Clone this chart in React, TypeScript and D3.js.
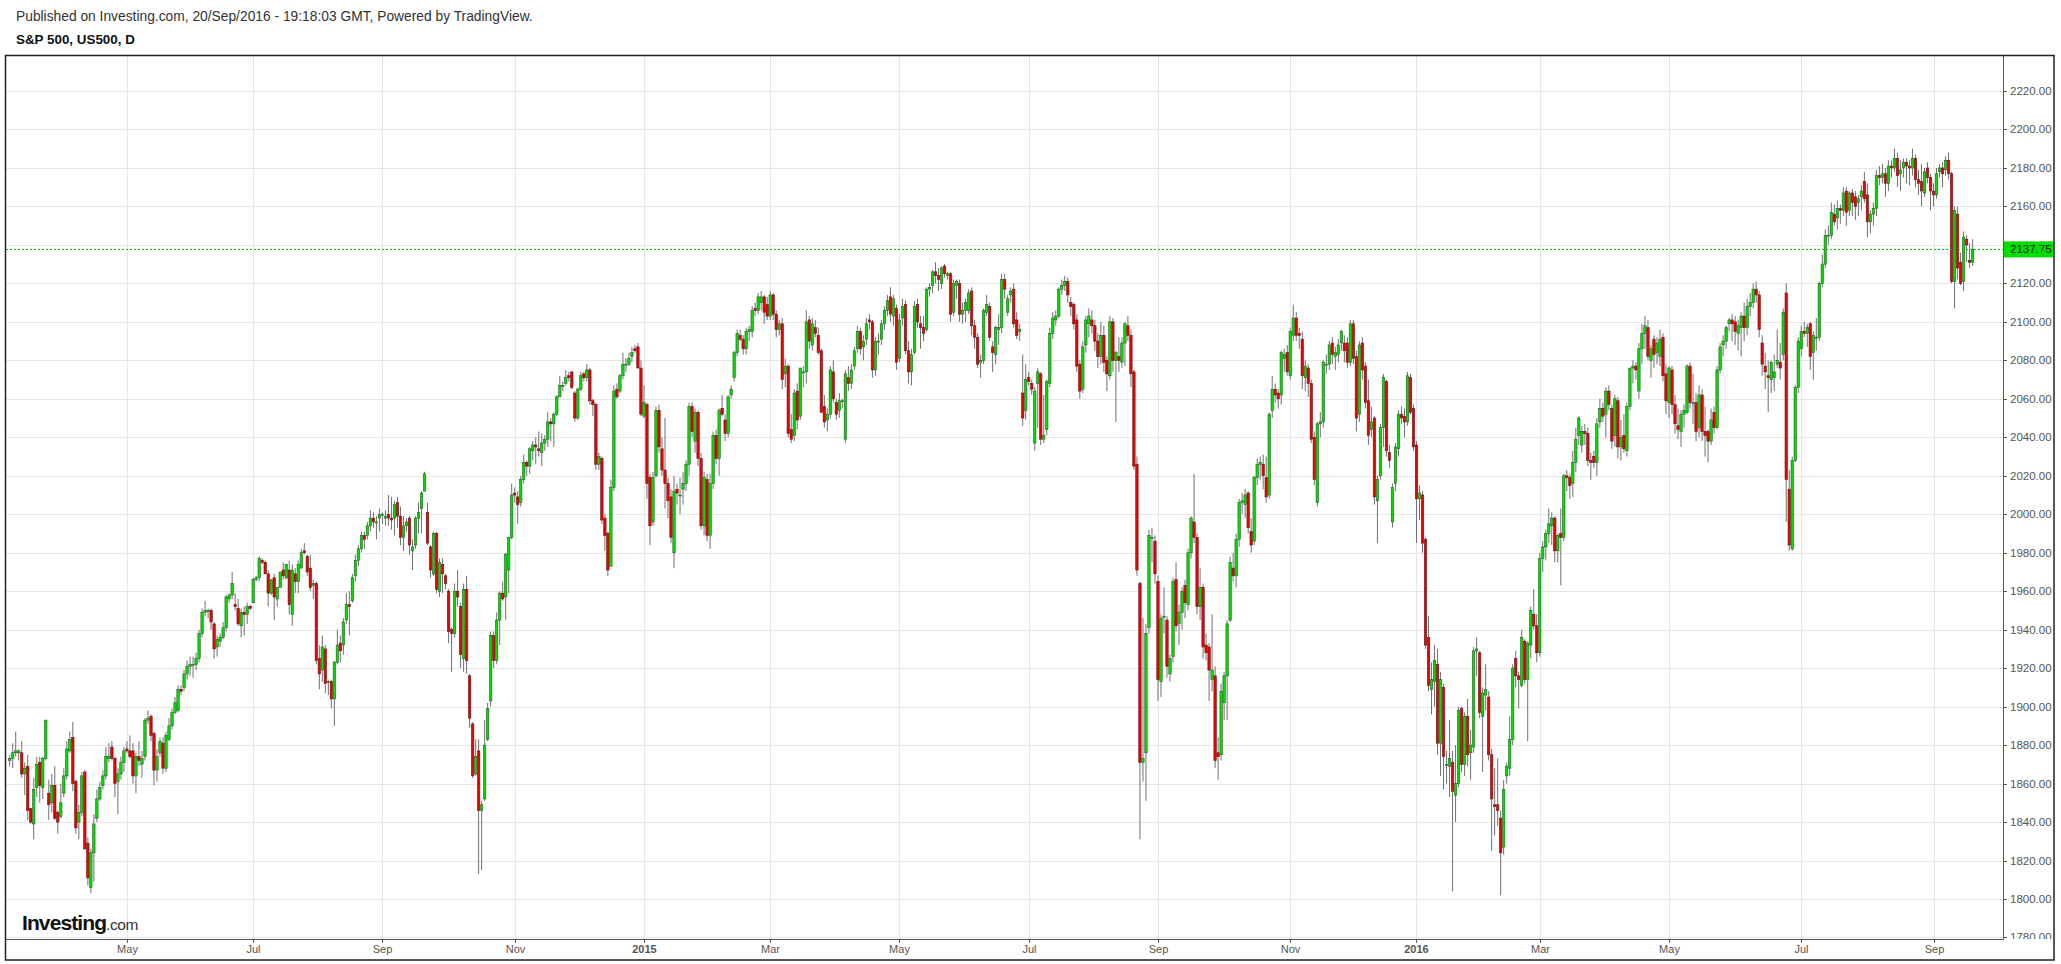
import React from 'react';
import * as d3 from 'd3';

type Bar = [number, number, number, number]; // open, high, low, close

const published = 'Published on Investing.com, 20/Sep/2016 - 19:18:03 GMT, Powered by TradingView.';
const title = 'S&P 500, US500, D';
const lastPrice = 2137.75;

const m2014_03: Bar[] = [[1872,1875,1869,1873],[1873,1881,1868,1876],[1876,1887,1874,1877],[1876,1878,1872,1877],[1876,1882,1863,1865],[1865,1871,1854,1868],[1869,1875,1841,1846],[1847,1847,1839,1840],[1839,1863,1831,1857],[1858,1874,1853,1870],[1871,1874,1850,1859],[1858,1874,1852,1873],[1873,1893,1872,1893],[1855,1862,1841,1849],[1850,1865,1845,1859],[1859,1869,1841,1842],[1845,1846,1834,1840],[1843,1860,1842,1850]];
const m2014_04: Bar[] = [[1855,1868,1853,1864],[1864,1882,1862,1878],[1877,1887,1876,1883],[1884,1892,1856,1860],[1861,1862,1834,1837],[1840,1849,1831,1845],[1845,1866,1843,1864],[1866,1867,1826,1826],[1829,1832,1807,1811],[1806,1826,1803,1824],[1824,1844,1809,1839],[1842,1857,1840,1852],[1852,1861,1851,1858],[1859,1867,1857,1864],[1864,1879,1862,1874],[1873,1881,1871,1874],[1879,1882,1872,1873],[1873,1874,1853,1860],[1861,1868,1844,1865],[1865,1874,1862,1871],[1871,1879,1866,1877]];
const m2014_05: Bar[] = [[1878,1882,1876,1877],[1877,1885,1873,1874],[1877,1881,1860,1864],[1864,1876,1855,1874],[1874,1882,1869,1872],[1870,1877,1863,1873],[1874,1894,1872,1893],[1893,1898,1891,1894],[1895,1896,1882,1885],[1886,1887,1859,1867],[1867,1878,1861,1874],[1876,1884,1874,1882],[1881,1884,1865,1868],[1868,1887,1866,1885],[1883,1894,1882,1890],[1890,1899,1888,1897],[1897,1905,1896,1902],[1898,1911,1897,1909],[1909,1911,1906,1908],[1910,1919,1908,1917],[1917,1924,1914,1921]];
const m2014_06: Bar[] = [[1921,1926,1916,1922],[1922,1926,1915,1922],[1922,1928,1919,1925],[1925,1940,1923,1938],[1938,1951,1936,1949],[1949,1955,1947,1950],[1950,1951,1946,1950],[1950,1951,1940,1944],[1943,1944,1925,1930],[1931,1937,1926,1935],[1934,1938,1931,1936],[1936,1944,1935,1941],[1941,1958,1939,1957],[1956,1959,1954,1958],[1958,1970,1956,1964],[1953,1959,1950,1952],[1951,1956,1942,1943],[1942,1951,1936,1949],[1949,1952,1937,1948],[1948,1954,1943,1952],[1952,1953,1950,1951]];
const m2014_07: Bar[] = [[1954,1967,1954,1966],[1966,1968,1965,1967],[1967,1978,1965,1977],[1976,1977,1974,1975],[1975,1976,1969,1969],[1969,1971,1952,1959],[1959,1966,1958,1966],[1967,1969,1945,1957],[1956,1962,1952,1962],[1962,1970,1962,1970],[1971,1975,1966,1968],[1967,1974,1966,1974],[1971,1976,1948,1953],[1948,1974,1942,1971],[1969,1972,1959,1965],[1965,1976,1959,1974],[1972,1982,1972,1980],[1981,1985,1979,1980],[1978,1979,1968,1970],[1972,1979,1960,1962],[1963,1966,1956,1964],[1964,1965,1922,1924]];
const m2014_08: Bar[] = [[1925,1932,1909,1917],[1919,1937,1913,1931],[1930,1932,1907,1912],[1913,1914,1906,1913],[1913,1914,1899,1904],[1904,1924,1890,1923],[1923,1940,1922,1932],[1933,1937,1923,1929],[1932,1946,1927,1944],[1945,1959,1943,1953],[1953,1960,1937,1952],[1955,1969,1954,1967],[1968,1979,1965,1976],[1976,1984,1973,1982],[1982,1991,1980,1989],[1989,1991,1982,1987],[1989,1996,1987,1994],[1994,2002,1991,1998],[1998,2001,1993,1996],[1996,1999,1987,1996],[1998,2003,1991,2000]];
const m2014_09: Bar[] = [[2000,2001,1995,2000],[1998,2002,1994,1999],[2000,2010,1994,1998],[1998,2009,1992,1997],[1998,2007,1989,2005],[2006,2009,1993,1999],[1999,2004,1984,1988],[1988,1999,1981,1994],[1994,1998,1991,1996],[1998,1999,1979,1984],[1981,1987,1971,1983],[1984,1999,1982,1998],[1998,2006,1990,2001],[2003,2012,1990,2011],[2012,2022,2012,2021],[2001,2006,1984,1985],[1983,1984,1967,1971],[1969,1991,1968,1990],[1990,1991,1959,1961],[1960,1977,1957,1975],[1974,1977,1959,1969]];
const m2014_10: Bar[] = [[1968,1969,1961,1964],[1960,1961,1933,1939],[1940,1941,1918,1938],[1938,1964,1936,1960],[1960,1971,1952,1957],[1952,1954,1920,1927],[1925,1964,1918,1961],[1961,1968,1917,1924],[1916,1917,1889,1894],[1891,1892,1863,1864],[1865,1883,1864,1874],[1877,1883,1813,1846],[1846,1851,1815,1849],[1852,1893,1851,1880],[1883,1902,1882,1899],[1903,1939,1900,1937],[1937,1939,1920,1924],[1924,1949,1922,1945],[1945,1960,1932,1959],[1959,1965,1955,1956],[1957,1980,1945,1979],[1971,1988,1959,1988],[1988,2016,1987,2010]];
const m2014_11: Bar[] = [[2011,2014,2006,2010],[2009,2012,1995,2005],[2006,2020,2004,2018],[2018,2031,2016,2027],[2027,2028,2020,2025],[2025,2035,2021,2034],[2033,2038,2028,2036],[2036,2040,2026,2035],[2034,2043,2030,2033],[2032,2042,2025,2037],[2037,2041,2033,2039],[2039,2053,2035,2048],[2048,2050,2038,2047],[2047,2053,2035,2052],[2052,2062,2051,2061],[2061,2072,2061,2067],[2067,2069,2064,2067],[2068,2075,2067,2071],[2072,2074,2069,2071],[2074,2074,2065,2066]];
const m2014_12: Bar[] = [[2063,2064,2048,2050],[2050,2066,2049,2065],[2065,2074,2064,2072],[2073,2074,2069,2071],[2071,2078,2069,2075],[2075,2076,2057,2059],[2059,2060,2051,2057],[2057,2058,2023,2026],[2026,2032,2023,2030],[2029,2030,1995,1997],[1998,2000,1981,1989],[1990,1991,1968,1971],[1973,2018,1973,2014],[2014,2067,2012,2064],[2065,2068,2060,2061],[2064,2073,2063,2072],[2072,2084,2070,2078],[2078,2081,2074,2078],[2078,2084,2077,2081],[2082,2087,2079,2084],[2086,2088,2084,2085],[2087,2089,2076,2076],[2076,2080,2051,2052]];
const m2015_01: Bar[] = [[2051,2067,2050,2058],[2057,2058,2008,2016],[2019,2021,1984,1994],[1996,2022,1994,2019],[2020,2056,2019,2054],[2054,2057,2032,2035],[2034,2040,2020,2023],[2023,2050,2003,2016],[2016,2019,1998,2007],[2009,2013,1985,1988],[1980,2020,1972,2012],[2013,2016,2005,2011],[2010,2019,2000,2010],[2013,2022,2005,2016],[2016,2028,2012,2026],[2026,2058,2020,2056],[2056,2058,2040,2043],[2038,2055,2032,2053],[2053,2054,2025,2029],[2029,2032,1992,1994],[1994,2022,1989,2019],[2018,2021,1986,1989]];
const m2015_02: Bar[] = [[1989,2021,1982,2016],[2016,2043,2013,2041],[2041,2044,2026,2029],[2029,2055,2020,2054],[2055,2062,2051,2052],[2049,2052,2038,2042],[2042,2062,2040,2061],[2062,2067,2060,2065],[2071,2085,2069,2084],[2084,2096,2082,2094],[2093,2096,2090,2091],[2091,2093,2083,2086],[2086,2097,2083,2095],[2095,2098,2090,2096],[2095,2108,2092,2106],[2107,2110,2103,2106],[2106,2115,2104,2113],[2110,2116,2106,2113],[2113,2114,2099,2105],[2109,2113,2101,2103]];
const m2015_03: Bar[] = [[2103,2116,2101,2114],[2114,2115,2101,2104],[2104,2106,2092,2096],[2096,2101,2093,2099],[2099,2102,2065,2070],[2073,2081,2066,2077],[2077,2078,2040,2042],[2044,2052,2037,2039],[2041,2065,2038,2063],[2064,2068,2044,2049],[2051,2076,2049,2076],[2074,2077,2066,2074],[2074,2106,2068,2100],[2101,2103,2086,2090],[2088,2102,2085,2099],[2097,2101,2092,2094],[2093,2097,2083,2084],[2085,2086,2053,2053],[2056,2062,2045,2048],[2049,2055,2043,2052],[2052,2077,2050,2075],[2074,2080,2058,2060]];
const m2015_04: Bar[] = [[2058,2060,2049,2052],[2054,2063,2050,2059],[2059,2060,2055,2059],[2039,2075,2037,2073],[2071,2077,2064,2068],[2068,2078,2065,2075],[2077,2087,2075,2085],[2086,2098,2084,2095],[2095,2097,2083,2086],[2087,2093,2080,2090],[2091,2102,2088,2099],[2101,2104,2096,2100],[2100,2101,2071,2075],[2075,2092,2072,2090],[2090,2094,2083,2090],[2091,2101,2088,2099],[2099,2108,2096,2106],[2106,2114,2103,2111],[2113,2118,2100,2104],[2103,2114,2098,2112],[2107,2109,2075,2079]];
const m2015_05: Bar[] = [[2081,2104,2079,2101],[2102,2112,2098,2108],[2109,2111,2083,2085],[2085,2090,2068,2074],[2074,2086,2067,2083],[2084,2111,2083,2108],[2109,2112,2097,2100],[2099,2103,2086,2097],[2097,2103,2090,2094],[2096,2118,2095,2117],[2117,2120,2113,2118],[2119,2127,2115,2126],[2126,2131,2120,2124],[2124,2128,2116,2122],[2120,2129,2117,2128],[2129,2130,2123,2125],[2124,2126,2122,2125],[2125,2126,2100,2104],[2105,2122,2103,2120],[2119,2122,2112,2121],[2120,2122,2100,2104]];
const m2015_06: Bar[] = [[2104,2110,2099,2106],[2106,2112,2100,2110],[2106,2117,2104,2115],[2116,2118,2093,2098],[2098,2101,2086,2092],[2092,2094,2076,2078],[2079,2083,2071,2080],[2080,2107,2078,2106],[2105,2114,2103,2109],[2108,2110,2090,2092],[2087,2090,2074,2084],[2083,2098,2078,2097],[2096,2104,2088,2097],[2097,2125,2094,2122],[2122,2125,2112,2117],[2105,2114,2103,2112],[2114,2118,2110,2116],[2117,2120,2097,2099],[2101,2105,2091,2093],[2095,2099,2090,2096],[2063,2083,2046,2050],[2054,2078,2049,2070]];
const m2015_07: Bar[] = [[2071,2074,2067,2069],[2068,2070,2062,2065],[2037,2066,2033,2064],[2068,2076,2045,2074],[2073,2074,2036,2039],[2039,2062,2037,2041],[2044,2070,2041,2069],[2068,2097,2066,2094],[2094,2105,2091,2102],[2101,2106,2098,2103],[2103,2118,2102,2117],[2117,2122,2114,2119],[2119,2124,2116,2121],[2121,2123,2110,2114],[2110,2113,2103,2108],[2109,2110,2096,2099],[2101,2104,2074,2077],[2078,2080,2060,2064],[2065,2090,2063,2087],[2088,2103,2084,2101],[2099,2107,2092,2103],[2101,2106,2094,2098]];
const m2015_08: Bar[] = [[2098,2101,2085,2090],[2090,2094,2076,2082],[2082,2100,2078,2093],[2093,2098,2074,2079],[2080,2082,2064,2073],[2072,2103,2070,2100],[2100,2102,2074,2080],[2080,2085,2048,2084],[2082,2092,2074,2080],[2079,2092,2076,2089],[2089,2100,2077,2099],[2098,2103,2090,2093],[2093,2096,2066,2073],[2074,2075,2023,2025],[2026,2030,1968,1971],[1964,1965,1831,1871],[1871,1946,1861,1873],[1876,1943,1851,1938],[1941,1992,1938,1989],[1988,1993,1975,1988],[1986,1989,1964,1969]];
const m2015_09: Bar[] = [[1965,1968,1903,1914],[1913,1948,1905,1946],[1947,1962,1938,1947],[1945,1947,1915,1921],[1917,1927,1913,1925],[1926,1967,1923,1965],[1966,1975,1939,1942],[1943,1953,1932,1949],[1949,1962,1940,1960],[1963,1966,1946,1954],[1953,1982,1950,1980],[1980,1999,1977,1998],[1996,2021,1985,1988],[1988,1990,1948,1952],[1952,1972,1945,1962],[1962,1964,1925,1931],[1932,1938,1924,1928],[1931,1933,1903,1919],[1914,1948,1908,1919],[1916,1921,1868,1872],[1876,1884,1862,1874],[1875,1912,1872,1908]];
const m2015_10: Bar[] = [[1902,1918,1893,1916],[1916,1945,1893,1943],[1945,1978,1944,1975],[1972,1980,1965,1968],[1968,1990,1962,1987],[1987,2008,1983,2006],[2006,2011,2000,2007],[2005,2013,1998,2010],[2011,2012,1990,1993],[1991,1998,1980,1984],[1986,2020,1984,2019],[2019,2029,2015,2026],[2026,2030,2018,2027],[2026,2031,2013,2020],[2019,2030,2006,2009],[2010,2053,2008,2052],[2054,2072,2050,2065],[2065,2068,2058,2062],[2063,2065,2055,2060],[2062,2085,2057,2084],[2081,2086,2074,2083],[2084,2088,2072,2074]];
const m2015_11: Bar[] = [[2072,2097,2070,2095],[2093,2109,2090,2102],[2102,2105,2090,2093],[2094,2097,2086,2093],[2091,2095,2065,2072],[2071,2080,2064,2077],[2076,2078,2061,2068],[2068,2070,2037,2039],[2040,2043,2015,2018],[2006,2048,2004,2047],[2047,2053,2040,2048],[2048,2080,2045,2079],[2078,2083,2073,2078],[2078,2090,2075,2088],[2089,2092,2078,2083],[2082,2087,2075,2084],[2083,2091,2079,2088],[2089,2096,2085,2095],[2089,2093,2079,2085],[2089,2092,2076,2079]];
const m2015_12: Bar[] = [[2079,2101,2077,2099],[2099,2101,2078,2081],[2082,2085,2043,2050],[2052,2090,2048,2088],[2089,2092,2070,2075],[2077,2079,2055,2058],[2059,2070,2036,2041],[2044,2056,2040,2048],[2050,2051,2005,2009],[2007,2020,1985,2018],[2020,2047,2018,2045],[2045,2073,2035,2071],[2069,2070,2030,2033],[2032,2036,2024,2028],[1996,2016,1993,2014],[2016,2037,2012,2035],[2034,2054,2030,2052],[2052,2056,2047,2050],[2051,2055,2040,2048],[2048,2074,2046,2072],[2071,2073,2052,2053],[2055,2057,2033,2035]];
const m2016_01: Bar[] = [[2036,2038,1985,2008],[2008,2015,1997,2011],[2010,2012,1980,1985],[1987,1988,1930,1932],[1936,1947,1908,1911],[1909,1923,1896,1914],[1913,1932,1900,1924],[1922,1930,1875,1881],[1881,1918,1864,1914],[1910,1912,1857,1874],[1870,1877,1860,1870],[1869,1893,1853,1873],[1871,1877,1804,1856],[1854,1880,1840,1860],[1860,1900,1858,1898],[1899,1900,1866,1870],[1870,1897,1864,1895],[1895,1904,1869,1875],[1876,1888,1862,1880],[1879,1931,1876,1929]];
const m2016_02: Bar[] = [[1929,1936,1916,1930],[1928,1929,1894,1897],[1895,1910,1866,1907],[1906,1922,1898,1909],[1905,1908,1872,1875],[1875,1878,1825,1852],[1849,1868,1833,1848],[1849,1873,1838,1846],[1842,1846,1802,1824],[1827,1862,1823,1857],[1864,1871,1860,1869],[1868,1895,1864,1883],[1883,1922,1880,1920],[1925,1929,1910,1916],[1916,1918,1899,1914],[1911,1940,1910,1936],[1934,1935,1912,1914],[1914,1934,1882,1933],[1932,1952,1925,1950],[1948,1961,1940,1942],[1942,1948,1923,1928]];
const m2016_03: Bar[] = [[1928,1980,1926,1977],[1977,1986,1970,1983],[1983,1992,1976,1990],[1990,2003,1985,1995],[1994,2001,1984,1998],[1998,1999,1975,1981],[1981,1990,1975,1989],[1990,2003,1963,1988],[1988,2021,1986,2020],[2020,2023,2012,2019],[2019,2021,2008,2015],[2016,2033,2009,2027],[2027,2045,2022,2039],[2041,2051,2036,2050],[2036,2046,2032,2043],[2043,2047,2036,2042],[2042,2045,2025,2028],[2028,2032,2018,2027],[2030,2033,2024,2027],[2027,2050,2020,2047],[2048,2060,2045,2055],[2055,2058,2048,2051]];
const m2016_04: Bar[] = [[2052,2066,2040,2064],[2064,2067,2054,2057],[2055,2057,2034,2038],[2041,2062,2035,2060],[2059,2061,2029,2035],[2035,2049,2028,2040],[2041,2052,2032,2034],[2033,2058,2030,2056],[2056,2076,2054,2076],[2076,2080,2068,2077],[2077,2079,2070,2075],[2064,2089,2060,2086],[2086,2099,2078,2094],[2094,2103,2086,2098],[2097,2101,2080,2082],[2080,2088,2071,2086],[2091,2093,2076,2083],[2084,2092,2078,2089],[2082,2096,2077,2091],[2092,2094,2069,2072],[2073,2078,2052,2059]];
const m2016_05: Bar[] = [[2058,2077,2050,2076],[2075,2077,2052,2057],[2057,2062,2042,2047],[2046,2055,2039,2044],[2043,2054,2035,2052],[2052,2057,2045,2054],[2053,2078,2052,2077],[2077,2079,2055,2058],[2058,2073,2047,2058],[2058,2063,2038,2043],[2045,2067,2040,2062],[2062,2065,2038,2043],[2043,2056,2030,2041],[2043,2044,2027,2038],[2038,2055,2036,2049],[2053,2056,2042,2045],[2045,2077,2044,2075],[2075,2089,2073,2087],[2088,2093,2082,2090],[2090,2098,2086,2097],[2099,2102,2095,2101],[2101,2104,2090,2099]];
const m2016_06: Bar[] = [[2100,2103,2088,2095],[2094,2101,2085,2098],[2097,2105,2082,2103],[2103,2110,2090,2097],[2097,2112,2093,2108],[2108,2115,2103,2110],[2110,2120,2107,2117],[2117,2121,2110,2114],[2114,2116,2092,2096],[2089,2093,2072,2078],[2077,2084,2065,2074],[2072,2080,2053,2071],[2070,2080,2063,2079],[2071,2083,2064,2074],[2078,2096,2076,2080],[2079,2089,2070,2076],[2083,2107,2080,2105],[2115,2120,1996,2018],[2013,2023,1981,1984],[1982,2030,1981,2028],[2028,2067,2027,2066],[2066,2092,2063,2090]];
const m2016_07: Bar[] = [[2086,2098,2082,2095],[2095,2100,2092,2094],[2094,2099,2087,2097],[2099,2100,2075,2082],[2084,2095,2070,2093],[2092,2102,2085,2092],[2092,2121,2090,2120],[2120,2135,2118,2130],[2130,2148,2128,2145],[2145,2150,2140,2145],[2145,2162,2143,2157],[2156,2161,2150,2152],[2154,2163,2148,2159],[2159,2161,2151,2158],[2158,2170,2155,2167],[2168,2170,2150,2157],[2158,2168,2155,2167],[2167,2169,2155,2162],[2165,2168,2153,2160],[2162,2166,2155,2164],[2165,2171,2158,2168]];
const m2016_08: Bar[] = [[2173,2178,2162,2164],[2166,2172,2144,2152],[2152,2158,2146,2156],[2156,2162,2150,2159],[2159,2179,2155,2176],[2176,2181,2171,2175],[2175,2182,2172,2177],[2177,2180,2165,2172],[2172,2184,2168,2181],[2181,2184,2175,2180],[2180,2190,2178,2185],[2185,2188,2170,2176],[2177,2184,2168,2179],[2180,2185,2175,2183],[2183,2185,2172,2181],[2181,2184,2171,2180],[2180,2190,2176,2185],[2185,2187,2170,2174],[2174,2179,2166,2172],[2173,2182,2160,2168],[2167,2180,2165,2178],[2180,2183,2172,2175],[2175,2177,2158,2168]];
const m2016_09: Bar[] = [[2168,2172,2160,2166],[2166,2180,2164,2177],[2178,2182,2175,2180],[2180,2183,2170,2177],[2179,2186,2176,2184],[2184,2188,2174,2177],[2177,2178,2120,2121],[2121,2160,2107,2158],[2156,2160,2122,2128],[2131,2136,2119,2120],[2121,2147,2116,2144],[2143,2145,2131,2140],[2132,2141,2128,2131],[2131,2143,2129,2137.75]];

const months: [string, Bar[]][] = [
  ['2014-03', m2014_03], ['2014-04', m2014_04], ['2014-05', m2014_05], ['2014-06', m2014_06],
  ['2014-07', m2014_07], ['2014-08', m2014_08], ['2014-09', m2014_09], ['2014-10', m2014_10],
  ['2014-11', m2014_11], ['2014-12', m2014_12], ['2015-01', m2015_01], ['2015-02', m2015_02],
  ['2015-03', m2015_03], ['2015-04', m2015_04], ['2015-05', m2015_05], ['2015-06', m2015_06],
  ['2015-07', m2015_07], ['2015-08', m2015_08], ['2015-09', m2015_09], ['2015-10', m2015_10],
  ['2015-11', m2015_11], ['2015-12', m2015_12], ['2016-01', m2016_01], ['2016-02', m2016_02],
  ['2016-03', m2016_03], ['2016-04', m2016_04], ['2016-05', m2016_05], ['2016-06', m2016_06],
  ['2016-07', m2016_07], ['2016-08', m2016_08], ['2016-09', m2016_09],
];

const tickMonths = ['2014-05','2014-07','2014-09','2014-11','2015-01','2015-03','2015-05','2015-07','2015-09','2015-11','2016-01','2016-03','2016-05','2016-07','2016-09'];
const tickLabels = ['May','Jul','Sep','Nov','2015','Mar','May','Jul','Sep','Nov','2016','Mar','May','Jul','Sep'];

const FONT = '"Liberation Sans", Arial, Helvetica, sans-serif';

export default function App() {
  const W = 2061, H = 964;
  const P = { left: 6, top: 56, right: 2003, bottom: 939 };

  const bars = months.flatMap(([key, arr]) =>
    arr.map((b, j) => ({ key, first: j === 0, o: b[0], h: b[1], l: b[2], c: b[3] }))
  );
  const x = d3.scaleLinear().domain([0, bars.length - 1]).range([9.7, 1972.6]);
  const y = d3.scaleLinear().domain([1800, 2220]).range([899, 91]);
  const yTicks = d3.range(1780, 2221, 20);
  const fmt = d3.format('.2f');

  const ticks = tickMonths.map((m, k) => {
    const idx = bars.findIndex(b => b.key === m && b.first);
    return { x: Math.round(x(idx)) + 0.5, label: tickLabels[k], bold: /^\d{4}$/.test(tickLabels[k]) };
  });

  const lastY = y(lastPrice);
  const boxTop = lastY - 7.8, boxBot = lastY + 8.2;

  return (
    <svg width={W} height={H} style={{ position: 'fixed', left: 0, top: 0, background: '#fff' }} fontFamily={FONT}>
      <defs>
        <clipPath id="plotClip"><rect x={P.left} y={P.top} width={P.right - P.left} height={P.bottom - P.top} /></clipPath>
        <clipPath id="axisClip"><rect x={P.right} y={P.top} width={60} height={P.bottom - P.top} /></clipPath>
        <clipPath id="aboveBox"><rect x={P.right} y={P.top} width={60} height={boxTop - P.top} /></clipPath>
      </defs>
      <rect x={0} y={0} width={W} height={H} fill="#fff" />
      <text x={16} y={20.5} fontSize={13.8} fill="#333">{published}</text>
      <text x={16} y={43.5} fontSize={13.4} fontWeight="bold" fill="#111">{title}</text>

      {/* gridlines */}
      <g clipPath="url(#plotClip)">
        {yTicks.map(t => (
          <line key={'h' + t} x1={P.left} x2={P.right} y1={Math.round(y(t)) + 0.5} y2={Math.round(y(t)) + 0.5} stroke="#e6e6e6" strokeWidth={1} />
        ))}
        {ticks.map(t => (
          <line key={'v' + t.label + t.x} x1={t.x} x2={t.x} y1={P.top} y2={P.bottom} stroke="#e6e6e6" strokeWidth={1} />
        ))}
        {/* candles */}
        {bars.map((b, i) => {
          const cx = x(i);
          const up = b.c >= b.o;
          const top = y(Math.max(b.o, b.c));
          const bot = y(Math.min(b.o, b.c));
          const hgt = Math.max(bot - top, 1);
          return (
            <g key={i}>
              <line x1={cx} x2={cx} y1={y(b.h)} y2={y(b.l)} stroke="#707070" strokeWidth={1} />
              <rect x={cx - 1.2} y={top} width={2.4} height={hgt}
                fill={up ? '#00e000' : '#f00000'} stroke={up ? '#246024' : '#601818'} strokeWidth={0.6} />
            </g>
          );
        })}
        <line x1={P.left} x2={P.right} y1={Math.round(lastY) + 0.5} y2={Math.round(lastY) + 0.5}
          stroke="#00c800" strokeWidth={1} strokeDasharray="2,2" />
      </g>

      {/* price axis */}
      <g clipPath="url(#axisClip)">
        {yTicks.map(t => {
          const ty = y(t);
          const hidden = ty > boxTop - 8 && ty < boxBot + 8;
          return (
            <g key={'yl' + t} clipPath={hidden ? 'url(#aboveBox)' : undefined}>
              <line x1={P.right} x2={P.right + 4} y1={Math.round(ty) + 0.5} y2={Math.round(ty) + 0.5} stroke="#555" />
              <text x={2010} y={ty + 4} fontSize={11.5} fill="#555">{fmt(t)}</text>
            </g>
          );
        })}
      </g>
      <rect x={P.right} y={boxTop} width={2054 - P.right} height={boxBot - boxTop} fill="#00e000" />
      <text x={2010} y={lastY + 4.2} fontSize={11.5} fill="#1a1a1a">{fmt(lastPrice)}</text>

      {/* time axis */}
      {ticks.map(t => (
        <g key={'xl' + t.label + t.x}>
          <line x1={t.x} x2={t.x} y1={P.bottom} y2={P.bottom + 4} stroke="#555" />
          <text x={t.x} y={953} fontSize={11} textAnchor="middle" fill="#555" fontWeight={t.bold ? 'bold' : 'normal'}>{t.label}</text>
        </g>
      ))}

      {/* axis lines */}
      <line x1={P.right + 0.5} x2={P.right + 0.5} y1={P.top} y2={P.bottom + 0.5} stroke="#555" strokeWidth={1} />
      <line x1={P.left} x2={P.right + 0.5} y1={P.bottom + 0.5} y2={P.bottom + 0.5} stroke="#555" strokeWidth={1} />

      {/* logo */}
      <text x={22} y={929.5} fontSize={21} fontWeight="bold" fill="#111" letterSpacing={-0.9}>
        Investing<tspan fontSize={15.5} fontWeight="normal" fill="#333" letterSpacing={-0.4}>.com</tspan>
      </text>

      {/* frame */}
      <rect x={5.5} y={55.5} width={2048.5} height={904.5} fill="none" stroke="#222" strokeWidth={1.5} />
    </svg>
  );
}
